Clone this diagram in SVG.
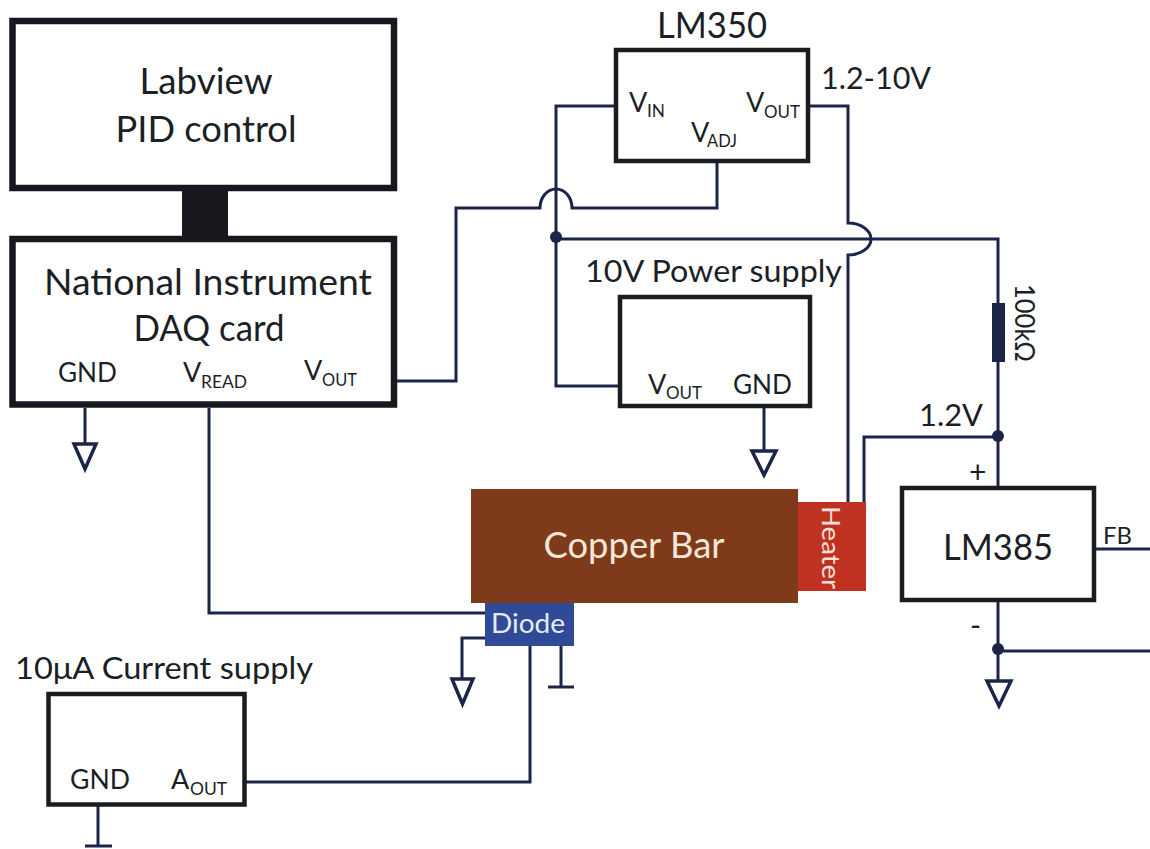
<svg xmlns="http://www.w3.org/2000/svg" width="1150" height="849" viewBox="0 0 1150 849">
<style>
text{font-family:Lato,"Open Sans","Liberation Sans",sans-serif;fill:#1c1f26}
.box{fill:#fff;stroke:#1a1c22;stroke-width:4.5}
.thick{fill:#fff;stroke:#16181d;stroke-width:6.5}
.w{fill:none;stroke:#1c2548;stroke-width:3}
.g{fill:#fff;stroke:#1c2548;stroke-width:3.5}
.dot{fill:#1c2548}
.t32{font-size:36px;text-anchor:middle}
.t26{font-size:30px}
.t24{font-size:27px}
.s{font-size:18px}
</style>
<rect width="1150" height="849" fill="#fff"/>
<g id="connectors">
<rect x="182" y="188" width="46" height="52" fill="#16181d"/>
<path class="w" d="M397 381H456V208H540A16 19 0 0 1 572 208H717V163"/>
<path class="w" d="M616 106H556V386H618"/>
<path class="w" d="M556 239H998V488"/>
<path class="w" d="M810 106H848V223A23 16 0 0 1 848 255V503"/>
<path class="w" d="M998 437H864V503"/>
<path class="w" d="M764 408V450"/>
<path class="w" d="M85 408V443"/>
<path class="w" d="M209 408V613H485"/>
<path class="w" d="M485 638H462V678"/>
<path class="w" d="M530 646V782H245"/>
<path class="w" d="M561 646V687M548 687H574"/>
<path class="w" d="M1096 549H1150"/>
<path class="w" d="M998 602V680M998 651H1150"/>
<path class="w" d="M98 806V846M85 846H112"/>
<rect x="992" y="303" width="13" height="59" fill="#1c2548"/>
<circle class="dot" cx="556" cy="237" r="6"/>
<circle class="dot" cx="998" cy="436" r="6"/>
<circle class="dot" cx="998" cy="649" r="6"/>
<path class="g" d="M74 444H96L85 469Z"/>
<path class="g" d="M752 451H776L764 475Z"/>
<path class="g" d="M452 679H473L462.500 704Z"/>
<path class="g" d="M987 681H1011L999 706Z"/>
</g>
<g id="labview">
<rect class="thick" x="12.500" y="21" width="381.500" height="167"/>
<text class="t32" x="206" y="94" textLength="133" lengthAdjust="spacingAndGlyphs">Labview</text>
<text class="t32" x="206" y="142" textLength="181" lengthAdjust="spacingAndGlyphs">PID control</text>
</g>
<g id="daq">
<rect class="thick" x="12.500" y="239" width="381.500" height="165.500"/>
<text class="t32" x="208" y="295" textLength="328" lengthAdjust="spacingAndGlyphs">National Instrument</text>
<text class="t32" x="209" y="341" textLength="151" lengthAdjust="spacingAndGlyphs">DAQ card</text>
<text class="t24" x="58" y="382" textLength="59" lengthAdjust="spacingAndGlyphs">GND</text>
<text class="t24" x="183" y="382">V</text><text class="s" x="201" y="388" textLength="46" lengthAdjust="spacingAndGlyphs">READ</text>
<text class="t24" x="304" y="380">V</text><text class="s" x="322" y="386" textLength="35" lengthAdjust="spacingAndGlyphs">OUT</text>
</g>
<g id="lm350">
<rect class="box" x="616" y="50" width="192" height="111"/>
<text class="t32" x="712" y="38" textLength="110" lengthAdjust="spacingAndGlyphs">LM350</text>
<text class="t24" x="629" y="112">V</text><text class="s" x="647" y="117" textLength="18" lengthAdjust="spacingAndGlyphs">IN</text>
<text class="t24" x="691" y="142">V</text><text class="s" x="707" y="147" textLength="30" lengthAdjust="spacingAndGlyphs">ADJ</text>
<text class="t24" x="746" y="112">V</text><text class="s" x="764" y="118" textLength="36" lengthAdjust="spacingAndGlyphs">OUT</text>
<text class="t26" x="821" y="89" textLength="110" lengthAdjust="spacingAndGlyphs">1.2-10V</text>
</g>
<g id="supply10v">
<rect class="box" x="620" y="297" width="190" height="109"/>
<text class="t26" x="585" y="282" textLength="257" lengthAdjust="spacingAndGlyphs">10V Power supply</text>
<text class="t24" x="648" y="394">V</text><text class="s" x="666" y="399" textLength="36" lengthAdjust="spacingAndGlyphs">OUT</text>
<text class="t24" x="733" y="394" textLength="59" lengthAdjust="spacingAndGlyphs">GND</text>
</g>
<g id="copper">
<rect x="471" y="489" width="327" height="114" fill="#7e3a1a"/>
<text x="634" y="558" text-anchor="middle" font-size="36" textLength="181" lengthAdjust="spacingAndGlyphs" style="fill:#f6e6d6">Copper Bar</text>
</g>
<g id="heater">
<rect x="798" y="502" width="68" height="89" fill="#bf3120"/>
<text transform="translate(822 506) rotate(90)" font-size="25" textLength="83" lengthAdjust="spacingAndGlyphs" style="fill:#f8e0d8">Heater</text>
</g>
<g id="diode">
<rect x="485" y="603" width="89" height="43" fill="#2f4a96"/>
<text x="491" y="633" font-size="27" textLength="74" lengthAdjust="spacingAndGlyphs" style="fill:#e6ebf5">Diode</text>
</g>
<g id="resistor-label">
<text transform="translate(1015 284) rotate(90)" class="t24" textLength="78" lengthAdjust="spacingAndGlyphs">100kΩ</text>
</g>
<g id="lm385">
<rect class="box" x="902" y="488" width="192" height="112"/>
<text class="t32" x="998" y="560" textLength="110" lengthAdjust="spacingAndGlyphs">LM385</text>
<text class="t26" x="919" y="426" textLength="64" lengthAdjust="spacingAndGlyphs">1.2V</text>
<text class="t26" x="969" y="483">+</text>
<text class="t26" x="970" y="636">-</text>
<text x="1103" y="544" font-size="24" textLength="29" lengthAdjust="spacingAndGlyphs">FB</text>
</g>
<g id="current-supply">
<rect class="box" x="48.500" y="694" width="196" height="110.500"/>
<text class="t26" x="15" y="679" textLength="298" lengthAdjust="spacingAndGlyphs">10μA Current supply</text>
<text class="t24" x="70" y="789" textLength="60" lengthAdjust="spacingAndGlyphs">GND</text>
<text class="t24" x="171" y="789">A</text><text class="s" x="190" y="795" textLength="37" lengthAdjust="spacingAndGlyphs">OUT</text>
</g>
</svg>
